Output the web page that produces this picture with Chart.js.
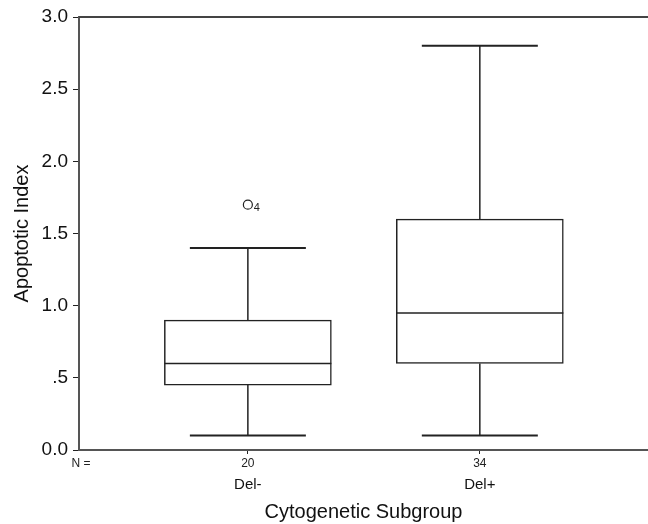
<!DOCTYPE html>
<html>
<head>
<meta charset="utf-8">
<script src="https://cdn.jsdelivr.net/npm/chart.js@4"></script>
<style>
  html, body { margin: 0; padding: 0; background: #fff; }
  #wrap { width: 648px; height: 524px; }
</style>
</head>
<body>
<div id="wrap"><canvas id="c" width="648" height="524"></canvas></div>
<script>
// box plot values
const groups = ["Del-", "Del+"];
const counts = ["20", "34"];
const mins = [0.1, 0.1];
const q1s = [0.45, 0.6];
const medians = [0.6, 0.95];
const q3s = [0.9, 1.6];
const maxs = [1.4, 2.8];
const outlierGroup = [1];
const outlierValues = [1.7];
const outlierIds = ["4"];
const yTicks = [0, 0.5, 1, 1.5, 2, 2.5, 3];
const yTickLabels = ["0.0", ".5", "1.0", "1.5", "2.0", "2.5", "3.0"];

const ink = "#222";
const font = "'Liberation Sans', Arial, sans-serif";

// whiskers, caps, medians, frame and N labels
const boxExtras = {
  id: "boxExtras",
  beforeDatasetsDraw(chart) {
    const { ctx, scales: { x, y } } = chart;
    const capHalf = 58;
    ctx.save();
    ctx.strokeStyle = ink;
    ctx.lineWidth = 1.5;
    groups.forEach((g, i) => {
      const px = x.getPixelForValue(i + 1);
      ctx.beginPath();
      ctx.moveTo(px, y.getPixelForValue(q3s[i]));
      ctx.lineTo(px, y.getPixelForValue(maxs[i]));
      ctx.moveTo(px, y.getPixelForValue(q1s[i]));
      ctx.lineTo(px, y.getPixelForValue(mins[i]));
      ctx.stroke();
      ctx.lineWidth = 2;
      ctx.beginPath();
      ctx.moveTo(px - capHalf, y.getPixelForValue(maxs[i]));
      ctx.lineTo(px + capHalf, y.getPixelForValue(maxs[i]));
      ctx.moveTo(px - capHalf, y.getPixelForValue(mins[i]));
      ctx.lineTo(px + capHalf, y.getPixelForValue(mins[i]));
      ctx.stroke();
      ctx.lineWidth = 1.5;
    });
    ctx.restore();
  },
  afterDatasetsDraw(chart) {
    const { ctx, chartArea, scales: { x, y } } = chart;
    const meta = chart.getDatasetMeta(0);
    ctx.save();
    ctx.strokeStyle = ink;
    ctx.lineWidth = 1.5;
    groups.forEach((g, i) => {
      const bar = meta.data[i];
      const half = bar.width / 2;
      const py = y.getPixelForValue(medians[i]);
      ctx.beginPath();
      ctx.moveTo(bar.x - half, py);
      ctx.lineTo(bar.x + half, py);
      ctx.stroke();
    });
    // top frame line
    ctx.lineWidth = 2;
    ctx.strokeStyle = "#444";
    ctx.beginPath();
    ctx.moveTo(chartArea.left, chartArea.top);
    ctx.lineTo(chartArea.right, chartArea.top);
    ctx.stroke();
    // outlier ids
    ctx.fillStyle = "#222";
    ctx.font = "11px " + font;
    ctx.textBaseline = "middle";
    outlierValues.forEach((v, i) => {
      ctx.fillText(outlierIds[i], x.getPixelForValue(outlierGroup[i]) + 6, y.getPixelForValue(v) + 3);
    });
    // N row
    ctx.font = "12px " + font;
    ctx.textAlign = "center";
    const ny = chartArea.bottom + 14;
    ctx.fillText("N =", chartArea.left + 2, ny);
    counts.forEach((n, i) => {
      ctx.fillText(n, x.getPixelForValue(i + 1), ny);
    });
    ctx.restore();
  }
};

new Chart(document.getElementById("c"), {
  data: {
    datasets: [
      {
        type: "bar",
        data: groups.map((g, i) => ({ x: i + 1, y: [q1s[i], q3s[i]] })),
        backgroundColor: "#fff",
        borderColor: ink,
        borderWidth: 1.5,
        borderSkipped: false,
        barThickness: 167,
      },
      {
        type: "scatter",
        data: outlierValues.map((v, i) => ({ x: outlierGroup[i], y: v })),
        pointRadius: 4.5,
        pointBackgroundColor: "#fff",
        pointBorderColor: ink,
        pointBorderWidth: 1.2,
      },
    ],
  },
  options: {
    responsive: false,
    animation: false,
    layout: { autoPadding: false, padding: { top: 17, right: 0, left: 0, bottom: 0 } },
    plugins: { legend: { display: false }, tooltip: { enabled: false } },
    scales: {
      x: {
        type: "linear",
        min: 0.272,
        max: 2.725,
        offset: false,
        afterBuildTicks(scale) {
          scale.ticks = groups.map((g, i) => ({ value: i + 1 }));
        },
        afterFit(scale) {
          scale.height = 74;
          scale.paddingLeft = 0;
          scale.paddingRight = 0;
        },
        grid: { display: true, offset: false, drawOnChartArea: false, drawTicks: true, tickLength: 4, color: ink },
        border: { display: true, color: "#555", width: 2 },
        ticks: {
          autoSkip: false,
          maxRotation: 0,
          padding: 22,
          color: "#111",
          font: { family: font, size: 15 },
          callback(value, index) {
            return groups[index];
          },
        },
        title: {
          display: true,
          text: "Cytogenetic Subgroup",
          color: "#111",
          font: { family: font, size: 20 },
          padding: { top: 0, bottom: 0 },
        },
      },
      y: {
        min: 0,
        max: 3,
        afterBuildTicks(scale) {
          scale.ticks = yTicks.map((v) => ({ value: v }));
        },
        afterFit(scale) {
          scale.width = 79;
        },
        grid: { display: true, drawOnChartArea: false, drawTicks: true, tickLength: 6, color: ink },
        border: { display: true, color: "#555", width: 2 },
        ticks: {
          padding: 5,
          color: "#111",
          font: { family: font, size: 19 },
          callback(value, index) {
            return yTickLabels[index];
          },
        },
        title: {
          display: true,
          text: "Apoptotic Index",
          color: "#111",
          font: { family: font, size: 20 },
          padding: { top: 10, bottom: 0 },
        },
      },
    },
  },
  plugins: [boxExtras],
});
</script>
</body>
</html>
